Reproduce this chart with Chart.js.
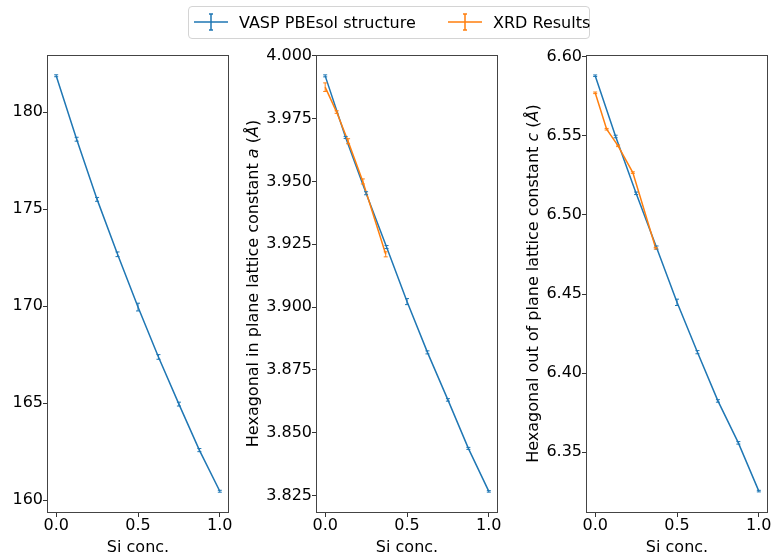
<!DOCTYPE html>
<html>
<head>
<meta charset="utf-8">
<script src="https://cdn.jsdelivr.net/npm/chart.js@4.4.0/dist/chart.umd.min.js"></script>
<style>
  body { margin: 0; background: #fff; overflow: hidden; width: 771px; height: 556px; position: relative; font-family: 'DejaVu Sans', sans-serif; }
  canvas { position: absolute; top: 0; }
  #legend { position: absolute; left: 188px; top: 6px; width: 400px; height: 31px; border: 1px solid #d4d4d4; border-radius: 4px; background: rgba(255,255,255,0.8); z-index: 2; }
  #legend svg { position: absolute; top: 5px; }
  #legend span { position: absolute; top: 8px; font-size: 16px; line-height: 16px; color: #000; white-space: nowrap; }
</style>
</head>
<body>
<div id="legend">
  <svg style="left:5px" width="34" height="20"><path d="M0 10H34M17 2V18M15 2H19M15 18H19" stroke="#1f77b4" stroke-width="1.5" fill="none"/></svg>
  <span style="left:50px">VASP PBEsol structure</span>
  <svg style="left:259px" width="34" height="20"><path d="M0 10H34M17 2V18M15 2H19M15 18H19" stroke="#ff7f0e" stroke-width="1.5" fill="none"/></svg>
  <span style="left:304px">XRD Results</span>
</div>
<canvas id="c1" width="240" height="556" style="left:0"></canvas>
<canvas id="c2" width="270" height="556" style="left:240px"></canvas>
<canvas id="c3" width="271" height="556" style="left:510px"></canvas>
<script>
// Si concentration for the calculated structures
const siConc = [0, 0.125, 0.25, 0.375, 0.5, 0.625, 0.75, 0.875, 1.0];
// Si concentration of the measured samples
const xrdConc = [0, 0.07, 0.14, 0.23, 0.37];

const vaspCol1 = [181.87, 178.6, 175.5, 172.67, 169.95, 167.38, 164.95, 162.58, 160.46];
const vaspCol1Err = [0.05, 0.1, 0.1, 0.12, 0.2, 0.12, 0.1, 0.08, 0.05];

const vaspA = [3.992, 3.9675, 3.9453, 3.9239, 3.9022, 3.882, 3.8631, 3.8438, 3.8267];
const vaspAErr = [0.0004, 0.0004, 0.0006, 0.0006, 0.0012, 0.0006, 0.0005, 0.0004, 0.0003];
const xrdA = [3.9875, 3.9776, 3.966, 3.950, 3.921];
const xrdAErr = [0.0017, 0.0005, 0.001, 0.001, 0.001];

const vaspC = [6.588, 6.5496, 6.5137, 6.4794, 6.4448, 6.4133, 6.3825, 6.356, 6.3255];
const vaspCErr = [0.0005, 0.0008, 0.0008, 0.001, 0.002, 0.001, 0.0008, 0.0008, 0.0005];
const xrdC = [6.5772, 6.5542, 6.5437, 6.5268, 6.479];
const xrdCErr = [0.0005, 0.0005, 0.0005, 0.0005, 0.0005];

const xTicks = [0, 0.5, 1.0];
const col1Ticks = [160, 165, 170, 175, 180];
const aTicks = [3.825, 3.850, 3.875, 3.900, 3.925, 3.950, 3.975, 4.000];
const cTicks = [6.35, 6.40, 6.45, 6.50, 6.55, 6.60];

const BLUE = '#1f77b4';
const ORANGE = '#ff7f0e';
const FONT = "'DejaVu Sans', sans-serif";

Chart.defaults.font.family = FONT;
Chart.defaults.font.size = 16;
Chart.defaults.color = '#000';

function points(xs, ys) {
    return xs.map((x, i) => ({x: x, y: ys[i]}));
}

// vertical error bars with small caps
const errorBars = {
    id: 'errorBars',
    afterDatasetsDraw(chart) {
        const {ctx, scales: {x, y}} = chart;
        chart.data.datasets.forEach(ds => {
            if (!ds.errors) return;
            ctx.save();
            ctx.strokeStyle = ds.borderColor;
            ctx.lineWidth = 1;
            ds.data.forEach((p, i) => {
                const px = x.getPixelForValue(p.x);
                const top = y.getPixelForValue(p.y + ds.errors[i]);
                const bot = y.getPixelForValue(p.y - ds.errors[i]);
                ctx.beginPath();
                ctx.moveTo(px, top);
                ctx.lineTo(px, bot);
                ctx.moveTo(px - 2, top);
                ctx.lineTo(px + 2, top);
                ctx.moveTo(px - 2, bot);
                ctx.lineTo(px + 2, bot);
                ctx.stroke();
            });
            ctx.restore();
        });
    }
};

// full box around the plot area
const frame = {
    id: 'frame',
    afterDraw(chart) {
        const {ctx, chartArea: a} = chart;
        ctx.save();
        ctx.strokeStyle = '#444';
        ctx.lineWidth = 1;
        ctx.strokeRect(Math.round(a.left) - 0.5, Math.round(a.top) + 0.5,
            Math.round(a.right - a.left) + 1, Math.round(a.bottom - a.top));
        ctx.restore();
    }
};

// rotated y label, mixing upright and italic parts
function yTitle(parts, x) {
    return {
        id: 'yTitle',
        afterDraw(chart) {
            const {ctx, chartArea: a} = chart;
            const fontOf = it => (it ? 'italic ' : '') + '16px ' + FONT;
            ctx.save();
            ctx.fillStyle = '#000';
            ctx.textBaseline = 'alphabetic';
            let total = 0;
            const widths = parts.map(p => {
                ctx.font = fontOf(p[1]);
                const w = ctx.measureText(p[0]).width;
                total += w;
                return w;
            });
            ctx.translate(x, (a.top + a.bottom) / 2);
            ctx.rotate(-Math.PI / 2);
            let pos = -total / 2;
            parts.forEach((p, i) => {
                ctx.font = fontOf(p[1]);
                ctx.fillText(p[0], pos, 0);
                pos += widths[i];
            });
            ctx.restore();
        }
    };
}

function makePanel(id, cfg) {
    const datasets = [{
        label: 'VASP PBEsol structure',
        data: points(siConc, cfg.vasp),
        errors: cfg.vaspErr,
        borderColor: BLUE,
        order: 2
    }];
    if (cfg.xrd) {
        datasets.push({
            label: 'XRD Results',
            data: points(xrdConc, cfg.xrd),
            errors: cfg.xrdErr,
            borderColor: ORANGE,
            order: 1
        });
    }
    datasets.forEach(ds => {
        ds.showLine = true;
        ds.borderWidth = 1.5;
        ds.pointRadius = 0;
        ds.fill = false;
        ds.tension = 0;
    });

    const extra = cfg.title ? [yTitle(cfg.title, cfg.titleX)] : [];

    new Chart(document.getElementById(id), {
        type: 'scatter',
        data: {datasets: datasets},
        options: {
            responsive: false,
            animation: false,
            devicePixelRatio: 1,
            layout: {padding: {top: 55, right: cfg.padRight, left: 0, bottom: 0}},
            plugins: {legend: {display: false}, tooltip: {enabled: false}},
            scales: {
                x: {
                    type: 'linear',
                    min: -0.05,
                    max: 1.05,
                    afterBuildTicks: s => { s.ticks = xTicks.map(v => ({value: v})); },
                    afterFit: s => { s.height = 44; },
                    grid: {drawOnChartArea: false, tickLength: 5, tickColor: '#333'},
                    border: {display: false},
                    ticks: {autoSkip: false, maxRotation: 0, padding: -1, callback: v => v.toFixed(1)},
                    title: {display: true, text: 'Si conc.', padding: {top: 0, bottom: -1}}
                },
                y: {
                    type: 'linear',
                    min: cfg.min,
                    max: cfg.max,
                    afterBuildTicks: s => { s.ticks = cfg.ticks.map(v => ({value: v})); },
                    afterFit: s => { s.width = cfg.axisWidth; },
                    grid: {drawOnChartArea: false, tickLength: 5, tickColor: '#333'},
                    border: {display: false},
                    ticks: {autoSkip: false, padding: 0, callback: v => v.toFixed(cfg.digits)}
                }
            }
        },
        plugins: [errorBars, frame].concat(extra)
    });
}

makePanel('c1', {
    vasp: vaspCol1, vaspErr: vaspCol1Err,
    min: 159.39, max: 182.94, ticks: col1Ticks, digits: 0,
    axisWidth: 48, padRight: 12
});

makePanel('c2', {
    vasp: vaspA, vaspErr: vaspAErr, xrd: xrdA, xrdErr: xrdAErr,
    min: 3.8185, max: 4.0003, ticks: aTicks, digits: 3,
    axisWidth: 77, padRight: 13,
    title: [['Hexagonal in plane lattice constant ', false], ['a', true], [' (', false], ['Å', true], [')', false]],
    titleX: 18
});

makePanel('c3', {
    vasp: vaspC, vaspErr: vaspCErr, xrd: xrdC, xrdErr: xrdCErr,
    min: 6.3123, max: 6.6011, ticks: cTicks, digits: 2,
    axisWidth: 77, padRight: 14,
    title: [['Hexagonal out of plane lattice constant ', false], ['c', true], [' (', false], ['Å', true], [')', false]],
    titleX: 28
});
</script>
</body>
</html>
